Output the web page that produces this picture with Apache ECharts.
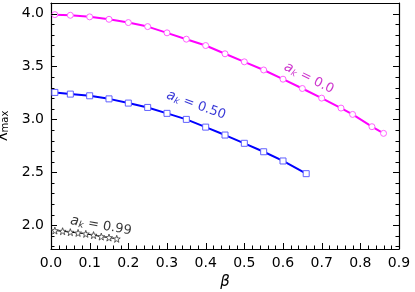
<!DOCTYPE html>
<html><head><meta charset="utf-8">
<script src="https://cdn.jsdelivr.net/npm/echarts@6/dist/echarts.min.js"></script>
<style>html,body{margin:0;padding:0;background:#fff}#c{width:415px;height:292px}</style>
</head><body><div id="c"></div>
<script>
// data
const beta0 = [0.01,0.05,0.10,0.15,0.20,0.25,0.30,0.35,0.40,0.45,0.50,0.55,0.60,0.65,0.70,0.75,0.78,0.83,0.86];
const lam0  = [3.990,3.984,3.969,3.946,3.915,3.877,3.818,3.758,3.698,3.620,3.544,3.467,3.380,3.292,3.201,3.107,3.047,2.931,2.868];
const beta50 = [0.01,0.05,0.10,0.15,0.20,0.25,0.30,0.35,0.40,0.45,0.50,0.55,0.60,0.66];
const lam50  = [3.255,3.239,3.223,3.194,3.154,3.113,3.057,3.000,2.927,2.852,2.774,2.694,2.607,2.487];
const beta99 = [0.01,0.03,0.05,0.07,0.09,0.11,0.13,0.15,0.17];
const lam99  = [1.949,1.943,1.934,1.927,1.918,1.906,1.892,1.883,1.871];
// tick values
const xMajor = [0.0,0.1,0.2,0.3,0.4,0.5,0.6,0.7,0.8,0.9];
const xMinor = [0.02,0.04,0.06,0.08,0.12,0.14,0.16,0.18,0.22,0.24,0.26,0.28,0.32,0.34,0.36,0.38,0.42,0.44,0.46,0.48,
                0.52,0.54,0.56,0.58,0.62,0.64,0.66,0.68,0.72,0.74,0.76,0.78,0.82,0.84,0.86,0.88];
const yMajor = [2.0,2.5,3.0,3.5,4.0];
const yMinor = [1.8,1.9,2.1,2.2,2.3,2.4,2.6,2.7,2.8,2.9,3.1,3.2,3.3,3.4,3.6,3.7,3.8,3.9];
const labels = [
  {x:0.667, y:3.39, val:'0.0', color:'#c000c0', rot:-27},
  {x:0.375, y:3.135, val:'0.50', color:'#0000cc', rot:-20},
  {x:0.129, y:1.995, val:'0.99', color:'#000000', rot:-10}
];

const F = 'DejaVu Sans';
const X0 = 0, X1 = 0.9, Y0 = 1.775, Y1 = 4.1;
const MAJ = 6, MIN = 3.5;
const zip = (a,b)=>a.map((v,i)=>[v,b[i]]);
const chart = echarts.init(document.getElementById('c'), null, {renderer:'canvas'});

// tick specs: [x, y, length, direction] direction 0 = +x (left spine), 1 = -x (right spine), 2 = up (bottom spine)
const tickData = [];
yMajor.forEach(v=>{tickData.push([X0,v,MAJ,0]); tickData.push([X1,v,MAJ,1]);});
yMinor.forEach(v=>{tickData.push([X0,v,MIN,0]); tickData.push([X1,v,MIN,1]);});
xMajor.forEach(v=>tickData.push([v,Y0,MAJ,2]));
xMinor.forEach(v=>tickData.push([v,Y0,MIN,2]));

const richLab = (color)=>({
  a:{fontFamily:F, fontStyle:'italic', fontSize:14, color:color},
  k:{fontFamily:F, fontStyle:'italic', fontSize:9, color:color, padding:[6,0,0,0]},
  t:{fontFamily:F, fontSize:13, color:color}
});

const series = [
  {type:'line', data:zip(beta0,lam0), symbol:'circle', symbolSize:6, lineStyle:{color:'#ff00ff', width:2}, itemStyle:{color:'#fff', borderColor:'#ff60ff', borderWidth:1}, z:3},
  {type:'line', data:zip(beta50,lam50), symbol:'rect', symbolSize:6, lineStyle:{color:'#0000ff', width:2}, itemStyle:{color:'#fff', borderColor:'#6060ff', borderWidth:1}, z:3},
  {type:'line', data:zip(beta99,lam99), symbol:'path://M0,-10 L2.35,-3.24 L9.51,-3.09 L3.8,1.24 L5.88,8.09 L0,4 L-5.88,8.09 L-3.8,1.24 L-9.51,-3.09 L-2.35,-3.24 Z', symbolSize:7, lineStyle:{color:'#000', width:1}, itemStyle:{color:'#fff', borderColor:'#333', borderWidth:0.8}, z:3},
  {type:'custom', data:tickData, encode:{x:0, y:1}, clip:false, silent:true, z:6,
    renderItem:(params, api)=>{
      const p = api.coord([api.value(0), api.value(1)]);
      const len = api.value(2), d = api.value(3);
      let x1=p[0], y1=p[1], x2=x1, y2=y1;
      if (d===0) { y1=y2=Math.round(y1)+0.5; x2=x1+len; }
      else if (d===1) { y1=y2=Math.round(y1)+0.5; x2=x1-len; }
      else { x1=x2=Math.round(x1)+0.5; y2=y1-len; }
      return {type:'line', shape:{x1,y1,x2,y2}, style:{stroke:'#000', lineWidth:1}};
    }}
];
labels.forEach(l=>{
  series.push({type:'scatter', data:[[l.x,l.y]], symbolSize:0, silent:true, z:5,
    label:{show:true, position:'inside', rotate:l.rot, formatter:'{a|a}{k|k}{t| = '+l.val+'}', rich:richLab(l.color)}});
});

const line = {show:true, onZero:false, lineStyle:{color:'#000', width:1.2}};
chart.setOption({
  animation:false,
  backgroundColor:'#fff',
  grid:{left:51, right:16, top:3, bottom:43, outerBoundsMode:'none'},
  xAxis:[{type:'value', min:X0, max:X1, interval:0.1, position:'bottom', splitLine:{show:false},
    axisLine:line, axisTick:{show:false}, minorTick:{show:false},
    axisLabel:{fontFamily:F, fontSize:14, color:'#000', margin:7, formatter:v=>v.toFixed(1)},
    name:'β', nameLocation:'middle', nameGap:22,
    nameTextStyle:{fontFamily:F, fontStyle:'italic', fontSize:15, color:'#000'}},
    {type:'value', min:X0, max:X1, position:'top', splitLine:{show:false},
    axisLine:line, axisTick:{show:false}, axisLabel:{show:false}}],
  yAxis:[{type:'value', min:Y0, max:Y1, position:'left', splitLine:{show:false},
    axisLine:line, axisTick:{show:false},
    axisLabel:{show:true, customValues:yMajor, fontFamily:F, fontSize:14, color:'#000', margin:7, formatter:v=>v.toFixed(1)},
    name:'{l|λ}{m|max}', nameLocation:'middle', nameGap:29, nameRotate:90,
    nameTextStyle:{rich:{l:{fontFamily:F, fontSize:15, color:'#000'}, m:{fontFamily:F, fontSize:10, color:'#000', padding:[6,0,0,0]}}}},
    {type:'value', min:Y0, max:Y1, position:'right', splitLine:{show:false},
    axisLine:line, axisTick:{show:false}, axisLabel:{show:false}}],
  series: series
});
</script></body></html>
